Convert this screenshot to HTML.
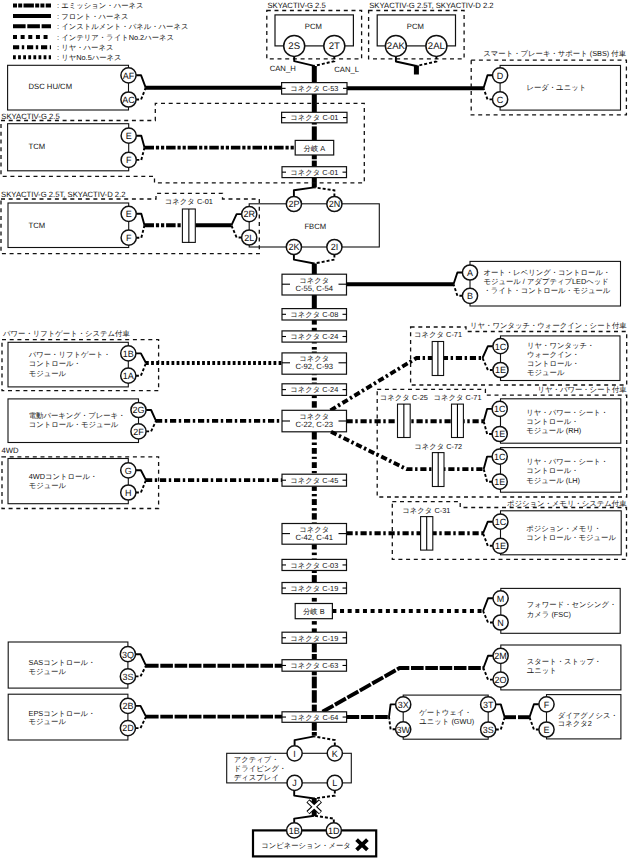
<!DOCTYPE html>
<html><head><meta charset="utf-8"><style>
html,body{margin:0;padding:0;background:#fff;width:628px;height:858px;overflow:hidden}
svg{display:block;text-rendering:geometricPrecision}
text{font-family:"Liberation Sans",sans-serif;fill:#111}
text.cl{fill:#111}
</style></head><body>
<svg width="628" height="858" viewBox="0 0 628 858">
<line x1="13" y1="5.6" x2="51" y2="5.6" stroke="#000" stroke-width="4" stroke-dasharray="4 1.2 4 1.3 10.4 1.3" stroke-dashoffset="0"/>
<text x="57" y="5.8999999999999995" font-size="7.5" text-anchor="start" dominant-baseline="central">:</text>
<text x="61.2" y="5.8999999999999995" font-size="7.35" text-anchor="start" dominant-baseline="central">エミッション・ハーネス</text>
<line x1="13" y1="16" x2="51" y2="16" stroke="#000" stroke-width="4" stroke-linecap="butt"/>
<text x="57" y="16.3" font-size="7.5" text-anchor="start" dominant-baseline="central">:</text>
<text x="61.2" y="16.3" font-size="7.35" text-anchor="start" dominant-baseline="central">フロント・ハーネス</text>
<line x1="13" y1="26.2" x2="51" y2="26.2" stroke="#000" stroke-width="4" stroke-dasharray="12.6 1.7" stroke-linecap="butt"/>
<text x="57" y="26.5" font-size="7.5" text-anchor="start" dominant-baseline="central">:</text>
<text x="61.2" y="26.5" font-size="7.35" text-anchor="start" dominant-baseline="central">インストルメント・パネル・ハーネス</text>
<line x1="13" y1="37" x2="51" y2="37" stroke="#000" stroke-width="4" stroke-dasharray="4 3.64" stroke-linecap="butt"/>
<text x="57" y="37.3" font-size="7.5" text-anchor="start" dominant-baseline="central">:</text>
<text x="61.2" y="37.3" font-size="7.35" text-anchor="start" dominant-baseline="central">インテリア・ライトNo.2ハーネス</text>
<line x1="13" y1="47.3" x2="51" y2="47.3" stroke="#000" stroke-width="4" stroke-dasharray="6.2 2.6 2.4 2.8" stroke-linecap="butt"/>
<text x="57" y="47.599999999999994" font-size="7.5" text-anchor="start" dominant-baseline="central">:</text>
<text x="61.2" y="47.599999999999994" font-size="7.35" text-anchor="start" dominant-baseline="central">リヤ・ハーネス</text>
<line x1="13" y1="57.3" x2="51" y2="57.3" stroke="#000" stroke-width="4" stroke-dasharray="2.8 2.3" stroke-linecap="butt"/>
<text x="57" y="57.599999999999994" font-size="7.5" text-anchor="start" dominant-baseline="central">:</text>
<text x="61.2" y="57.599999999999994" font-size="7.35" text-anchor="start" dominant-baseline="central">リヤNo.5ハーネス</text>
<rect x="311.8" y="66" width="5" height="16.599999999999994" fill="#000"/>
<rect x="311.8" y="93.5" width="5" height="18.799999999999997" fill="#000"/>
<rect x="311.8" y="122.8" width="5" height="1.7999999999999972" fill="#000"/>
<rect x="311.8" y="126.4" width="5" height="14.0" fill="#000"/>
<rect x="311.8" y="155" width="5" height="4.300000000000011" fill="#000"/>
<rect x="311.8" y="160.6" width="5" height="6.099999999999994" fill="#000"/>
<rect x="311.8" y="177.6" width="5" height="9.800000000000011" fill="#000"/>
<rect x="311.8" y="263.5" width="5" height="10.699999999999989" fill="#000"/>
<rect x="311.8" y="295" width="5" height="13.600000000000023" fill="#000"/>
<rect x="311.8" y="319.8" width="5" height="4.800000000000011" fill="#000"/>
<rect x="311.8" y="327.8" width="5" height="3.099999999999966" fill="#000"/>
<rect x="311.8" y="342.1" width="5" height="1.3999999999999773" fill="#000"/>
<rect x="311.8" y="347" width="5" height="2.6000000000000227" fill="#000"/>
<rect x="311.8" y="351.5" width="5" height="1.3999999999999773" fill="#000"/>
<rect x="311.8" y="374.2" width="5" height="1.0" fill="#000"/>
<rect x="311.8" y="377.6" width="5" height="2.7999999999999545" fill="#000"/>
<rect x="311.8" y="382.5" width="5" height="1.3000000000000114" fill="#000"/>
<rect x="311.8" y="395.4" width="5" height="2.7000000000000455" fill="#000"/>
<rect x="311.8" y="401.2" width="5" height="6.5" fill="#000"/>
<rect x="311.8" y="431.8" width="5" height="7.699999999999989" fill="#000"/>
<rect x="311.8" y="442.5" width="5" height="2.5" fill="#000"/>
<rect x="311.8" y="448" width="5" height="5.800000000000011" fill="#000"/>
<rect x="311.8" y="456.8" width="5" height="2.099999999999966" fill="#000"/>
<rect x="311.8" y="462.2" width="5" height="5.800000000000011" fill="#000"/>
<rect x="311.8" y="471" width="5" height="2.1999999999999886" fill="#000"/>
<rect x="311.8" y="486.2" width="5" height="4.699999999999989" fill="#000"/>
<rect x="311.8" y="494" width="5" height="2.3000000000000114" fill="#000"/>
<rect x="311.8" y="499.1" width="5" height="5.899999999999977" fill="#000"/>
<rect x="311.8" y="508.1" width="5" height="2.599999999999966" fill="#000"/>
<rect x="311.8" y="513.2" width="5" height="6.399999999999977" fill="#000"/>
<rect x="311.8" y="522.4" width="5" height="1.1000000000000227" fill="#000"/>
<rect x="311.8" y="544.2" width="5" height="5.199999999999932" fill="#000"/>
<rect x="311.8" y="552.6" width="5" height="2.5" fill="#000"/>
<rect x="311.8" y="558.5" width="5" height="0.8999999999999773" fill="#000"/>
<rect x="311.8" y="570.5" width="5" height="2.5" fill="#000"/>
<rect x="311.8" y="575.1" width="5" height="7.399999999999977" fill="#000"/>
<rect x="311.8" y="597.9" width="5" height="3.7000000000000455" fill="#000"/>
<rect x="311.8" y="621.1" width="5" height="3.5" fill="#000"/>
<rect x="311.8" y="628.4" width="5" height="3.800000000000068" fill="#000"/>
<rect x="311.8" y="643.3" width="5" height="9.0" fill="#000"/>
<rect x="311.8" y="654" width="5" height="5.7000000000000455" fill="#000"/>
<rect x="311.8" y="671.2" width="5" height="4.099999999999909" fill="#000"/>
<rect x="311.8" y="676.6" width="5" height="11.699999999999932" fill="#000"/>
<rect x="311.8" y="690.2" width="5" height="12.5" fill="#000"/>
<rect x="311.8" y="704.6" width="5" height="7.199999999999932" fill="#000"/>
<rect x="311.8" y="722.3" width="5" height="8.400000000000091" fill="#000"/>
<rect x="311.8" y="732" width="5" height="3.7000000000000455" fill="#000"/>
<polygon points="266.8,10.5 361.6,10.5 361.6,58.9 266.8,58.9" fill="none" stroke="#111" stroke-width="1.3" stroke-dasharray="4 3.7"/>
<text x="267.4" y="5.2" font-size="7.7" text-anchor="start" dominant-baseline="central">SKYACTIV-G 2.5</text>
<rect x="275" y="14.9" width="78.39999999999998" height="31.0" fill="none" stroke="#111" stroke-width="1.2"/>
<text x="313.3" y="26" font-size="7.7" text-anchor="middle" dominant-baseline="central">PCM</text>
<polyline points="294.2,56 294.2,61.2 314.2,65.9" fill="none" stroke="#000" stroke-width="1.9" stroke-linejoin="round"/>
<polyline points="334.3,56 334.3,61.2 314.2,65.9" fill="none" stroke="#000" stroke-width="1.9" stroke-dasharray="3 2"/>
<circle cx="294.2" cy="45.9" r="10.5" fill="#fff" stroke="#111" stroke-width="1.5"/>
<text x="294.2" y="46.199999999999996" font-size="9.6" text-anchor="middle" dominant-baseline="central" class="cl">2S</text>
<circle cx="334.3" cy="45.9" r="10.5" fill="#fff" stroke="#111" stroke-width="1.5"/>
<text x="334.3" y="46.199999999999996" font-size="9.6" text-anchor="middle" dominant-baseline="central" class="cl">2T</text>
<text x="282.7" y="68" font-size="7.7" text-anchor="middle" dominant-baseline="central">CAN_H</text>
<text x="346.7" y="69" font-size="7.7" text-anchor="middle" dominant-baseline="central">CAN_L</text>
<polygon points="368.6,10.5 464.1,10.5 464.1,58.9 368.6,58.9" fill="none" stroke="#111" stroke-width="1.3" stroke-dasharray="4 3.7"/>
<text x="369.2" y="5.2" font-size="7.7" text-anchor="start" dominant-baseline="central">SKYACTIV-G 2.5T, SKYACTIV-D 2.2</text>
<rect x="377.2" y="14.9" width="78.30000000000001" height="31.0" fill="none" stroke="#111" stroke-width="1.2"/>
<text x="415.4" y="26" font-size="7.7" text-anchor="middle" dominant-baseline="central">PCM</text>
<polyline points="395.9,56 395.9,61.5 416.4,66" fill="none" stroke="#000" stroke-width="1.9" stroke-linejoin="round"/>
<polyline points="436.4,56 436.4,61.5 416.4,66" fill="none" stroke="#000" stroke-width="1.9" stroke-dasharray="3 2"/>
<line x1="416.4" y1="65.5" x2="416.4" y2="74.5" stroke="#000" stroke-width="5" stroke-linecap="butt"/>
<circle cx="395.9" cy="45.9" r="10.5" fill="#fff" stroke="#111" stroke-width="1.5"/>
<text x="395.9" y="46.199999999999996" font-size="9.6" text-anchor="middle" dominant-baseline="central" class="cl">2AK</text>
<circle cx="436.4" cy="45.9" r="10.5" fill="#fff" stroke="#111" stroke-width="1.5"/>
<text x="436.4" y="46.199999999999996" font-size="9.6" text-anchor="middle" dominant-baseline="central" class="cl">2AL</text>
<rect x="7.6" y="65.3" width="120.9" height="44.7" fill="none" stroke="#111" stroke-width="1.1"/>
<text x="28.5" y="86.4" font-size="7.7" text-anchor="start" dominant-baseline="central">DSC HU/CM</text>
<polyline points="136.1,75.3 141.1,75.3 145.7,87.7" fill="none" stroke="#000" stroke-width="1.9" stroke-linejoin="round"/>
<polyline points="136.1,99.5 141.1,99.5 145.7,87.7" fill="none" stroke="#000" stroke-width="1.9" stroke-dasharray="3 2"/>
<line x1="145.7" y1="87.7" x2="281.6" y2="87.7" stroke="#000" stroke-width="3.9" stroke-linecap="butt"/>
<line x1="347" y1="88.2" x2="483.5" y2="88.2" stroke="#000" stroke-width="3.9" stroke-linecap="butt"/>
<circle cx="128.5" cy="75.3" r="7.6" fill="#fff" stroke="#111" stroke-width="1.5"/>
<text x="128.5" y="75.6" font-size="9" text-anchor="middle" dominant-baseline="central" class="cl">AF</text>
<circle cx="128.5" cy="99.5" r="7.6" fill="#fff" stroke="#111" stroke-width="1.5"/>
<text x="128.5" y="99.8" font-size="9" text-anchor="middle" dominant-baseline="central" class="cl">AC</text>
<text x="626" y="53.4" font-size="7.35" text-anchor="end" dominant-baseline="central">スマート・ブレーキ・サポート (SBS) 付車</text>
<polygon points="471.2,60.1 626.4,60.1 626.4,114.9 471.2,114.9" fill="none" stroke="#111" stroke-width="1.3" stroke-dasharray="4 3.7"/>
<rect x="500.1" y="65.4" width="120.39999999999998" height="44.69999999999999" fill="none" stroke="#111" stroke-width="1.1"/>
<text x="556.3" y="87.8" font-size="7.35" text-anchor="middle" dominant-baseline="central">レーダ・ユニット</text>
<polyline points="492.5,75.3 487.5,75.3 483.5,88.2" fill="none" stroke="#000" stroke-width="1.9" stroke-linejoin="round"/>
<polyline points="492.5,99.4 487.5,99.4 483.5,88.2" fill="none" stroke="#000" stroke-width="1.9" stroke-dasharray="3 2"/>
<circle cx="500.1" cy="75.3" r="7.6" fill="#fff" stroke="#111" stroke-width="1.5"/>
<text x="500.1" y="75.6" font-size="9" text-anchor="middle" dominant-baseline="central" class="cl">D</text>
<circle cx="500.1" cy="99.4" r="7.6" fill="#fff" stroke="#111" stroke-width="1.5"/>
<text x="500.1" y="99.7" font-size="9" text-anchor="middle" dominant-baseline="central" class="cl">C</text>
<text x="1.3" y="116" font-size="7.7" text-anchor="start" dominant-baseline="central">SKYACTIV-G 2.5</text>
<polygon points="1,120.5 155.3,120.5 155.3,103.4 364.3,103.4 364.3,182.8 154.5,182.8 154.5,176.3 1,176.3" fill="none" stroke="#111" stroke-width="1.3" stroke-dasharray="4 3.7"/>
<rect x="7.6" y="123.7" width="121.1" height="47.10000000000001" fill="none" stroke="#111" stroke-width="1.1"/>
<text x="28.5" y="146.4" font-size="7.7" text-anchor="start" dominant-baseline="central">TCM</text>
<polyline points="136.29999999999998,135.7 141.29999999999998,135.7 144.5,147.6" fill="none" stroke="#000" stroke-width="1.9" stroke-linejoin="round"/>
<polyline points="136.29999999999998,159.9 141.29999999999998,159.9 144.5,147.6" fill="none" stroke="#000" stroke-width="1.9" stroke-dasharray="3 2"/>
<line x1="144.5" y1="147.6" x2="295.2" y2="147.6" stroke="#000" stroke-width="3.9" stroke-dasharray="9.5 1.9 3.2 1.9 3.2 1.9" stroke-linecap="butt"/>
<circle cx="128.7" cy="135.7" r="7.6" fill="#fff" stroke="#111" stroke-width="1.5"/>
<text x="128.7" y="136.0" font-size="9" text-anchor="middle" dominant-baseline="central" class="cl">E</text>
<circle cx="128.7" cy="159.9" r="7.6" fill="#fff" stroke="#111" stroke-width="1.5"/>
<text x="128.7" y="160.20000000000002" font-size="9" text-anchor="middle" dominant-baseline="central" class="cl">F</text>
<rect x="281.6" y="82.6" width="65.39999999999998" height="11.5" fill="#fff" stroke="#111" stroke-width="1.2"/>
<line x1="281.6" y1="88.35" x2="285.6" y2="88.35" stroke="#000" stroke-width="1.1" stroke-linecap="butt"/>
<line x1="343" y1="88.35" x2="347" y2="88.35" stroke="#000" stroke-width="1.1" stroke-linecap="butt"/>
<text x="314.3" y="88.64999999999999" font-size="7.35" text-anchor="middle" dominant-baseline="central">コネクタ C-53</text>
<rect x="281.6" y="112.3" width="65.39999999999998" height="10.5" fill="#fff" stroke="#111" stroke-width="1.2"/>
<line x1="281.6" y1="117.55" x2="285.6" y2="117.55" stroke="#000" stroke-width="1.1" stroke-linecap="butt"/>
<line x1="343" y1="117.55" x2="347" y2="117.55" stroke="#000" stroke-width="1.1" stroke-linecap="butt"/>
<text x="314.3" y="117.85" font-size="7.35" text-anchor="middle" dominant-baseline="central">コネクタ C-01</text>
<rect x="295.2" y="140.4" width="38.5" height="14.599999999999994" fill="#fff" stroke="#111" stroke-width="1.2"/>
<text x="314.4" y="148" font-size="7.35" text-anchor="middle" dominant-baseline="central">分岐 A</text>
<rect x="282" y="166.7" width="64.5" height="10.900000000000006" fill="#fff" stroke="#111" stroke-width="1.2"/>
<line x1="282" y1="172.14999999999998" x2="286" y2="172.14999999999998" stroke="#000" stroke-width="1.1" stroke-linecap="butt"/>
<line x1="342.5" y1="172.14999999999998" x2="346.5" y2="172.14999999999998" stroke="#000" stroke-width="1.1" stroke-linecap="butt"/>
<text x="314.25" y="172.45" font-size="7.35" text-anchor="middle" dominant-baseline="central">コネクタ C-01</text>
<text x="1.1" y="194.1" font-size="7.7" text-anchor="start" dominant-baseline="central">SKYACTIV-G 2.5T, SKYACTIV-D 2.2</text>
<polygon points="1,199 156,199 156,193.4 222.5,193.4 222.5,199 259.3,199 259.3,253.6 1,253.6" fill="none" stroke="#111" stroke-width="1.3" stroke-dasharray="4 3.7"/>
<rect x="8" y="203" width="120.69999999999999" height="44.5" fill="none" stroke="#111" stroke-width="1.1"/>
<text x="28.5" y="225.4" font-size="7.7" text-anchor="start" dominant-baseline="central">TCM</text>
<polyline points="136.29999999999998,213.8 141.29999999999998,213.8 144.5,225.3" fill="none" stroke="#000" stroke-width="1.9" stroke-linejoin="round"/>
<polyline points="136.29999999999998,237.7 141.29999999999998,237.7 144.5,225.3" fill="none" stroke="#000" stroke-width="1.9" stroke-dasharray="3 2"/>
<line x1="144.5" y1="225.3" x2="182.4" y2="225.3" stroke="#000" stroke-width="3.9" stroke-dasharray="9.5 1.9 3.2 1.9 3.2 1.9" stroke-linecap="butt"/>
<line x1="195.3" y1="225.3" x2="231.4" y2="225.3" stroke="#000" stroke-width="3.9" stroke-linecap="butt"/>
<text x="188.8" y="201.9" font-size="7.35" text-anchor="middle" dominant-baseline="central">コネクタ C-01</text>
<rect x="182.4" y="209" width="12.900000000000006" height="33.400000000000006" fill="#fff" stroke="#111" stroke-width="1.1"/>
<line x1="188.85000000000002" y1="209" x2="188.85000000000002" y2="242.4" stroke="#000" stroke-width="1.1" stroke-linecap="butt"/>
<polyline points="241.6,214.1 236.6,214.1 231.4,225.3" fill="none" stroke="#000" stroke-width="1.9" stroke-linejoin="round"/>
<polyline points="241.6,237.5 236.6,237.5 231.4,225.3" fill="none" stroke="#000" stroke-width="1.9" stroke-dasharray="3 2"/>
<circle cx="128.7" cy="213.8" r="7.6" fill="#fff" stroke="#111" stroke-width="1.5"/>
<text x="128.7" y="214.10000000000002" font-size="9" text-anchor="middle" dominant-baseline="central" class="cl">E</text>
<circle cx="128.7" cy="237.7" r="7.6" fill="#fff" stroke="#111" stroke-width="1.5"/>
<text x="128.7" y="238.0" font-size="9" text-anchor="middle" dominant-baseline="central" class="cl">F</text>
<rect x="249.2" y="203.8" width="130.10000000000002" height="43.19999999999999" fill="none" stroke="#111" stroke-width="1.1"/>
<text x="315.3" y="226.3" font-size="7.7" text-anchor="middle" dominant-baseline="central">FBCM</text>
<polyline points="293.9,196.4 293.9,190.3 314.2,187.4" fill="none" stroke="#000" stroke-width="1.9" stroke-linejoin="round"/>
<polyline points="334.4,196.4 334.4,190.3 314.2,187.4" fill="none" stroke="#000" stroke-width="1.9" stroke-dasharray="3 2"/>
<polyline points="293.9,254.6 293.9,259.6 314.3,263.5" fill="none" stroke="#000" stroke-width="1.9" stroke-linejoin="round"/>
<polyline points="334.4,254.6 334.4,259.6 314.3,263.5" fill="none" stroke="#000" stroke-width="1.9" stroke-dasharray="3 2"/>
<circle cx="249.2" cy="214.1" r="7.6" fill="#fff" stroke="#111" stroke-width="1.5"/>
<text x="249.2" y="214.4" font-size="9" text-anchor="middle" dominant-baseline="central" class="cl">2R</text>
<circle cx="249.2" cy="237.5" r="7.6" fill="#fff" stroke="#111" stroke-width="1.5"/>
<text x="249.2" y="237.8" font-size="9" text-anchor="middle" dominant-baseline="central" class="cl">2L</text>
<circle cx="293.9" cy="204" r="7.6" fill="#fff" stroke="#111" stroke-width="1.5"/>
<text x="293.9" y="204.3" font-size="9" text-anchor="middle" dominant-baseline="central" class="cl">2P</text>
<circle cx="334.4" cy="204" r="7.6" fill="#fff" stroke="#111" stroke-width="1.5"/>
<text x="334.4" y="204.3" font-size="9" text-anchor="middle" dominant-baseline="central" class="cl">2N</text>
<circle cx="293.9" cy="247" r="7.6" fill="#fff" stroke="#111" stroke-width="1.5"/>
<text x="293.9" y="247.3" font-size="9" text-anchor="middle" dominant-baseline="central" class="cl">2K</text>
<circle cx="334.4" cy="247" r="7.6" fill="#fff" stroke="#111" stroke-width="1.5"/>
<text x="334.4" y="247.3" font-size="9" text-anchor="middle" dominant-baseline="central" class="cl">2I</text>
<rect x="282" y="274.2" width="64.5" height="20.80000000000001" fill="#fff" stroke="#111" stroke-width="1.2"/>
<line x1="282" y1="284.2" x2="290" y2="284.2" stroke="#000" stroke-width="1.1" stroke-linecap="butt"/>
<line x1="338.5" y1="284.2" x2="346.5" y2="284.2" stroke="#000" stroke-width="1.1" stroke-linecap="butt"/>
<text x="314.25" y="280.0" font-size="7.35" text-anchor="middle" dominant-baseline="central">コネクタ</text>
<text x="314.25" y="288.2" font-size="7.7" text-anchor="middle" dominant-baseline="central">C-55, C-54</text>
<rect x="282" y="308.6" width="64.5" height="11.399999999999977" fill="#fff" stroke="#111" stroke-width="1.2"/>
<line x1="282" y1="314.3" x2="286" y2="314.3" stroke="#000" stroke-width="1.1" stroke-linecap="butt"/>
<line x1="342.5" y1="314.3" x2="346.5" y2="314.3" stroke="#000" stroke-width="1.1" stroke-linecap="butt"/>
<text x="314.25" y="314.6" font-size="7.35" text-anchor="middle" dominant-baseline="central">コネクタ C-08</text>
<line x1="346.5" y1="284.2" x2="453.5" y2="284.2" stroke="#000" stroke-width="3.9" stroke-linecap="butt"/>
<rect x="470" y="261.4" width="150.5" height="44.60000000000002" fill="none" stroke="#111" stroke-width="1.1"/>
<text x="483.4" y="272.8" font-size="7.35" text-anchor="start" dominant-baseline="central">オート・レベリング・コントロール・</text>
<text x="483.4" y="281.8" font-size="7.35" text-anchor="start" dominant-baseline="central">モジュール / アダプティブLEDヘッド</text>
<text x="483.4" y="290.8" font-size="7.35" text-anchor="start" dominant-baseline="central">・ライト・コントロール・モジュール</text>
<polyline points="462.4,272.5 457.4,272.5 453.5,284.2" fill="none" stroke="#000" stroke-width="1.9" stroke-linejoin="round"/>
<polyline points="462.4,295.8 457.4,295.8 453.5,284.2" fill="none" stroke="#000" stroke-width="1.9" stroke-dasharray="3 2"/>
<circle cx="470" cy="272.5" r="7.6" fill="#fff" stroke="#111" stroke-width="1.5"/>
<text x="470" y="272.8" font-size="9" text-anchor="middle" dominant-baseline="central" class="cl">A</text>
<circle cx="470" cy="295.8" r="7.6" fill="#fff" stroke="#111" stroke-width="1.5"/>
<text x="470" y="296.1" font-size="9" text-anchor="middle" dominant-baseline="central" class="cl">B</text>
<text x="3" y="333.6" font-size="7.35" text-anchor="start" dominant-baseline="central">パワー・リフトゲート・システム付車</text>
<polygon points="2,339.7 158.6,339.7 158.6,390.7 2,390.7" fill="none" stroke="#111" stroke-width="1.3" stroke-dasharray="4 3.7"/>
<rect x="8" y="342.3" width="120.30000000000001" height="44.599999999999966" fill="none" stroke="#111" stroke-width="1.1"/>
<text x="28.7" y="354.6" font-size="7.35" text-anchor="start" dominant-baseline="central">パワー・リフトゲート・</text>
<text x="28.7" y="363.90000000000003" font-size="7.35" text-anchor="start" dominant-baseline="central">コントロール・</text>
<text x="28.7" y="373.20000000000005" font-size="7.35" text-anchor="start" dominant-baseline="central">モジュール</text>
<polyline points="135.9,353.4 140.9,353.4 146,363" fill="none" stroke="#000" stroke-width="1.9" stroke-linejoin="round"/>
<polyline points="135.9,375.7 140.9,375.7 146,363" fill="none" stroke="#000" stroke-width="1.9" stroke-dasharray="3 2"/>
<line x1="146" y1="363" x2="282" y2="363" stroke="#000" stroke-width="3.9" stroke-dasharray="2.8 2.3" stroke-linecap="butt"/>
<circle cx="128.3" cy="353.4" r="7.6" fill="#fff" stroke="#111" stroke-width="1.5"/>
<text x="128.3" y="353.7" font-size="9" text-anchor="middle" dominant-baseline="central" class="cl">1B</text>
<circle cx="128.3" cy="375.7" r="7.6" fill="#fff" stroke="#111" stroke-width="1.5"/>
<text x="128.3" y="376.0" font-size="9" text-anchor="middle" dominant-baseline="central" class="cl">1A</text>
<rect x="282" y="330.9" width="64.5" height="11.200000000000045" fill="#fff" stroke="#111" stroke-width="1.2"/>
<line x1="282" y1="336.5" x2="286" y2="336.5" stroke="#000" stroke-width="1.1" stroke-linecap="butt"/>
<line x1="342.5" y1="336.5" x2="346.5" y2="336.5" stroke="#000" stroke-width="1.1" stroke-linecap="butt"/>
<text x="314.25" y="336.8" font-size="7.35" text-anchor="middle" dominant-baseline="central">コネクタ C-24</text>
<rect x="282" y="352.9" width="64.5" height="21.30000000000001" fill="#fff" stroke="#111" stroke-width="1.2"/>
<line x1="282" y1="362.8" x2="290" y2="362.8" stroke="#000" stroke-width="1.1" stroke-linecap="butt"/>
<line x1="338.5" y1="362.8" x2="346.5" y2="362.8" stroke="#000" stroke-width="1.1" stroke-linecap="butt"/>
<text x="314.25" y="358.7" font-size="7.35" text-anchor="middle" dominant-baseline="central">コネクタ</text>
<text x="314.25" y="366.9" font-size="7.7" text-anchor="middle" dominant-baseline="central">C-92, C-93</text>
<rect x="282" y="383.8" width="64.5" height="11.599999999999966" fill="#fff" stroke="#111" stroke-width="1.2"/>
<line x1="282" y1="389.6" x2="286" y2="389.6" stroke="#000" stroke-width="1.1" stroke-linecap="butt"/>
<line x1="342.5" y1="389.6" x2="346.5" y2="389.6" stroke="#000" stroke-width="1.1" stroke-linecap="butt"/>
<text x="314.25" y="389.90000000000003" font-size="7.35" text-anchor="middle" dominant-baseline="central">コネクタ C-24</text>
<rect x="8" y="398.9" width="130.5" height="43.60000000000002" fill="none" stroke="#111" stroke-width="1.1"/>
<text x="28.7" y="415" font-size="7.35" text-anchor="start" dominant-baseline="central">電動パーキング・ブレーキ・</text>
<text x="28.7" y="424.6" font-size="7.35" text-anchor="start" dominant-baseline="central">コントロール・モジュール</text>
<polyline points="146.1,410 151.1,410 156,420.9" fill="none" stroke="#000" stroke-width="1.9" stroke-linejoin="round"/>
<polyline points="146.1,431.4 151.1,431.4 156,420.9" fill="none" stroke="#000" stroke-width="1.9" stroke-dasharray="3 2"/>
<line x1="156" y1="420.9" x2="282" y2="420.9" stroke="#000" stroke-width="3.9" stroke-dasharray="6.2 2.6 2.4 2.8" stroke-linecap="butt"/>
<circle cx="138.5" cy="410" r="7.6" fill="#fff" stroke="#111" stroke-width="1.5"/>
<text x="138.5" y="410.3" font-size="9" text-anchor="middle" dominant-baseline="central" class="cl">2G</text>
<circle cx="138.5" cy="431.4" r="7.6" fill="#fff" stroke="#111" stroke-width="1.5"/>
<text x="138.5" y="431.7" font-size="9" text-anchor="middle" dominant-baseline="central" class="cl">2F</text>
<text x="1.5" y="450" font-size="7.7" text-anchor="start" dominant-baseline="central">4WD</text>
<polygon points="2,456.9 158.6,456.9 158.6,508.5 2,508.5" fill="none" stroke="#111" stroke-width="1.3" stroke-dasharray="4 3.7"/>
<rect x="8" y="458.5" width="120.30000000000001" height="45.19999999999999" fill="none" stroke="#111" stroke-width="1.1"/>
<text x="28.7" y="476.2" font-size="7.35" text-anchor="start" dominant-baseline="central">4WDコントロール・</text>
<text x="28.7" y="485.1" font-size="7.35" text-anchor="start" dominant-baseline="central">モジュール</text>
<polyline points="135.9,470.3 140.9,470.3 146,480.1" fill="none" stroke="#000" stroke-width="1.9" stroke-linejoin="round"/>
<polyline points="135.9,492.5 140.9,492.5 146,480.1" fill="none" stroke="#000" stroke-width="1.9" stroke-dasharray="3 2"/>
<line x1="146" y1="480.1" x2="282" y2="480.1" stroke="#000" stroke-width="3.9" stroke-dasharray="6.2 2.6 2.4 2.8" stroke-linecap="butt"/>
<circle cx="128.3" cy="470.3" r="7.6" fill="#fff" stroke="#111" stroke-width="1.5"/>
<text x="128.3" y="470.6" font-size="9" text-anchor="middle" dominant-baseline="central" class="cl">G</text>
<circle cx="128.3" cy="492.5" r="7.6" fill="#fff" stroke="#111" stroke-width="1.5"/>
<text x="128.3" y="492.8" font-size="9" text-anchor="middle" dominant-baseline="central" class="cl">H</text>
<text x="626.7" y="325" font-size="7.35" text-anchor="end" dominant-baseline="central">リヤ・ワンタッチ・ウォークイン・シート付車</text>
<polygon points="410.6,327 466,327 466,331.5 626.7,331.5 626.7,385 410.6,385" fill="none" stroke="#111" stroke-width="1.3" stroke-dasharray="4 3.7"/>
<text x="414" y="334.9" font-size="7.35" text-anchor="start" dominant-baseline="central">コネクタ C-71</text>
<polyline points="330.5,410.3 416.5,358 482.5,358" fill="none" stroke="#000" stroke-width="3.9" stroke-dasharray="6.2 2.6 2.4 2.8" stroke-linejoin="round"/>
<rect x="432.2" y="341.5" width="11.400000000000034" height="34.0" fill="#fff" stroke="#111" stroke-width="1.1"/>
<line x1="437.9" y1="341.5" x2="437.9" y2="375.5" stroke="#000" stroke-width="1.1" stroke-linecap="butt"/>
<rect x="500.5" y="335.9" width="119.5" height="44.60000000000002" fill="none" stroke="#111" stroke-width="1.1"/>
<text x="527" y="345.0" font-size="7.35" text-anchor="start" dominant-baseline="central">リヤ・ワンタッチ・</text>
<text x="527" y="354.3" font-size="7.35" text-anchor="start" dominant-baseline="central">ウォークイン・</text>
<text x="527" y="363.6" font-size="7.35" text-anchor="start" dominant-baseline="central">コントロール・</text>
<text x="527" y="372.9" font-size="7.35" text-anchor="start" dominant-baseline="central">モジュール</text>
<polyline points="492.9,346.2 487.9,346.2 482.5,358" fill="none" stroke="#000" stroke-width="1.9" stroke-linejoin="round"/>
<polyline points="492.9,370 487.9,370 482.5,358" fill="none" stroke="#000" stroke-width="1.9" stroke-dasharray="3 2"/>
<circle cx="500.5" cy="346.2" r="7.6" fill="#fff" stroke="#111" stroke-width="1.5"/>
<text x="500.5" y="346.5" font-size="9" text-anchor="middle" dominant-baseline="central" class="cl">1C</text>
<circle cx="500.5" cy="370" r="7.6" fill="#fff" stroke="#111" stroke-width="1.5"/>
<text x="500.5" y="370.3" font-size="9" text-anchor="middle" dominant-baseline="central" class="cl">1E</text>
<rect x="282" y="410.3" width="64.5" height="21.5" fill="#fff" stroke="#111" stroke-width="1.2"/>
<line x1="282" y1="421" x2="290" y2="421" stroke="#000" stroke-width="1.1" stroke-linecap="butt"/>
<line x1="338.5" y1="421" x2="346.5" y2="421" stroke="#000" stroke-width="1.1" stroke-linecap="butt"/>
<text x="314.25" y="416.1" font-size="7.35" text-anchor="middle" dominant-baseline="central">コネクタ</text>
<text x="314.25" y="424.3" font-size="7.7" text-anchor="middle" dominant-baseline="central">C-22, C-23</text>
<text x="626.7" y="389.9" font-size="7.35" text-anchor="end" dominant-baseline="central">リヤ・パワー・シート付車</text>
<polygon points="377.2,389.3 485.4,389.3 485.4,395.2 626.7,395.2 626.7,497 377.2,497" fill="none" stroke="#111" stroke-width="1.3" stroke-dasharray="4 3.7"/>
<line x1="346.5" y1="421.3" x2="483.7" y2="421.3" stroke="#000" stroke-width="3.9" stroke-dasharray="6.2 2.6 2.4 2.8" stroke-linecap="butt"/>
<polyline points="331,431.8 406.6,469.1 483.7,469.1" fill="none" stroke="#000" stroke-width="3.9" stroke-dasharray="6.2 2.6 2.4 2.8" stroke-linejoin="round"/>
<text x="403.8" y="397.6" font-size="7.35" text-anchor="middle" dominant-baseline="central">コネクタ C-25</text>
<text x="457.5" y="397.6" font-size="7.35" text-anchor="middle" dominant-baseline="central">コネクタ C-71</text>
<text x="438.2" y="446.1" font-size="7.35" text-anchor="middle" dominant-baseline="central">コネクタ C-72</text>
<rect x="397.5" y="404.1" width="12.699999999999989" height="33.39999999999998" fill="#fff" stroke="#111" stroke-width="1.1"/>
<line x1="403.85" y1="404.1" x2="403.85" y2="437.5" stroke="#000" stroke-width="1.1" stroke-linecap="butt"/>
<rect x="451.5" y="404.1" width="11.899999999999977" height="33.39999999999998" fill="#fff" stroke="#111" stroke-width="1.1"/>
<line x1="457.45" y1="404.1" x2="457.45" y2="437.5" stroke="#000" stroke-width="1.1" stroke-linecap="butt"/>
<rect x="432.4" y="452.6" width="11.600000000000023" height="33.89999999999998" fill="#fff" stroke="#111" stroke-width="1.1"/>
<line x1="438.2" y1="452.6" x2="438.2" y2="486.5" stroke="#000" stroke-width="1.1" stroke-linecap="butt"/>
<rect x="500.5" y="398.8" width="120.29999999999995" height="44.39999999999998" fill="none" stroke="#111" stroke-width="1.1"/>
<rect x="500.5" y="447.6" width="120.29999999999995" height="44.599999999999966" fill="none" stroke="#111" stroke-width="1.1"/>
<text x="526.3" y="412.2" font-size="7.35" text-anchor="start" dominant-baseline="central">リヤ・パワー・シート・</text>
<text x="526.3" y="421.55" font-size="7.35" text-anchor="start" dominant-baseline="central">コントロール・</text>
<text x="526.3" y="430.9" font-size="7.35" text-anchor="start" dominant-baseline="central">モジュール (RH)</text>
<text x="526.3" y="461.6" font-size="7.35" text-anchor="start" dominant-baseline="central">リヤ・パワー・シート・</text>
<text x="526.3" y="470.95000000000005" font-size="7.35" text-anchor="start" dominant-baseline="central">コントロール・</text>
<text x="526.3" y="480.3" font-size="7.35" text-anchor="start" dominant-baseline="central">モジュール (LH)</text>
<polyline points="492.09999999999997,408.9 487.09999999999997,408.9 483.7,421.3" fill="none" stroke="#000" stroke-width="1.9" stroke-linejoin="round"/>
<polyline points="492.09999999999997,434 487.09999999999997,434 483.7,421.3" fill="none" stroke="#000" stroke-width="1.9" stroke-dasharray="3 2"/>
<polyline points="492.09999999999997,456.6 487.09999999999997,456.6 483.7,469.1" fill="none" stroke="#000" stroke-width="1.9" stroke-linejoin="round"/>
<polyline points="492.09999999999997,481.7 487.09999999999997,481.7 483.7,469.1" fill="none" stroke="#000" stroke-width="1.9" stroke-dasharray="3 2"/>
<circle cx="499.7" cy="408.9" r="7.6" fill="#fff" stroke="#111" stroke-width="1.5"/>
<text x="499.7" y="409.2" font-size="9" text-anchor="middle" dominant-baseline="central" class="cl">1C</text>
<circle cx="499.7" cy="434" r="7.6" fill="#fff" stroke="#111" stroke-width="1.5"/>
<text x="499.7" y="434.3" font-size="9" text-anchor="middle" dominant-baseline="central" class="cl">1E</text>
<circle cx="499.7" cy="456.6" r="7.6" fill="#fff" stroke="#111" stroke-width="1.5"/>
<text x="499.7" y="456.90000000000003" font-size="9" text-anchor="middle" dominant-baseline="central" class="cl">1C</text>
<circle cx="499.7" cy="481.7" r="7.6" fill="#fff" stroke="#111" stroke-width="1.5"/>
<text x="499.7" y="482.0" font-size="9" text-anchor="middle" dominant-baseline="central" class="cl">1E</text>
<rect x="282" y="474.2" width="64.5" height="12.0" fill="#fff" stroke="#111" stroke-width="1.2"/>
<line x1="282" y1="480.2" x2="286" y2="480.2" stroke="#000" stroke-width="1.1" stroke-linecap="butt"/>
<line x1="342.5" y1="480.2" x2="346.5" y2="480.2" stroke="#000" stroke-width="1.1" stroke-linecap="butt"/>
<text x="314.25" y="480.5" font-size="7.35" text-anchor="middle" dominant-baseline="central">コネクタ C-45</text>
<text x="626.5" y="503.6" font-size="7.35" text-anchor="end" dominant-baseline="central">ポジション・メモリ・システム付車</text>
<polygon points="392.3,501.7 460.2,501.7 460.2,507.5 626.5,507.5 626.5,559.3 392.3,559.3" fill="none" stroke="#111" stroke-width="1.3" stroke-dasharray="4 3.7"/>
<text x="402.3" y="510.4" font-size="7.35" text-anchor="start" dominant-baseline="central">コネクタ C-31</text>
<line x1="346.5" y1="533.3" x2="483" y2="533.3" stroke="#000" stroke-width="3.9" stroke-dasharray="6.2 2.6 2.4 2.8" stroke-linecap="butt"/>
<rect x="420.6" y="516.6" width="12.199999999999989" height="33.5" fill="#fff" stroke="#111" stroke-width="1.1"/>
<line x1="426.70000000000005" y1="516.6" x2="426.70000000000005" y2="550.1" stroke="#000" stroke-width="1.1" stroke-linecap="butt"/>
<rect x="500.5" y="510.8" width="120.70000000000005" height="43.99999999999994" fill="none" stroke="#111" stroke-width="1.1"/>
<text x="526.3" y="528.6" font-size="7.35" text-anchor="start" dominant-baseline="central">ポジション・メモリ・</text>
<text x="526.3" y="537.4" font-size="7.35" text-anchor="start" dominant-baseline="central">コントロール・モジュール</text>
<polyline points="492.79999999999995,521.7 487.79999999999995,521.7 483,533.3" fill="none" stroke="#000" stroke-width="1.9" stroke-linejoin="round"/>
<polyline points="492.79999999999995,545.8 487.79999999999995,545.8 483,533.3" fill="none" stroke="#000" stroke-width="1.9" stroke-dasharray="3 2"/>
<circle cx="500.4" cy="521.7" r="7.6" fill="#fff" stroke="#111" stroke-width="1.5"/>
<text x="500.4" y="522.0" font-size="9" text-anchor="middle" dominant-baseline="central" class="cl">1C</text>
<circle cx="500.4" cy="545.8" r="7.6" fill="#fff" stroke="#111" stroke-width="1.5"/>
<text x="500.4" y="546.0999999999999" font-size="9" text-anchor="middle" dominant-baseline="central" class="cl">1E</text>
<rect x="282" y="523.5" width="64.5" height="20.700000000000045" fill="#fff" stroke="#111" stroke-width="1.2"/>
<line x1="282" y1="533.6" x2="290" y2="533.6" stroke="#000" stroke-width="1.1" stroke-linecap="butt"/>
<line x1="338.5" y1="533.6" x2="346.5" y2="533.6" stroke="#000" stroke-width="1.1" stroke-linecap="butt"/>
<text x="314.25" y="529.3" font-size="7.35" text-anchor="middle" dominant-baseline="central">コネクタ</text>
<text x="314.25" y="537.5" font-size="7.7" text-anchor="middle" dominant-baseline="central">C-42, C-41</text>
<rect x="282" y="559.4" width="64.5" height="11.100000000000023" fill="#fff" stroke="#111" stroke-width="1.2"/>
<line x1="282" y1="564.95" x2="286" y2="564.95" stroke="#000" stroke-width="1.1" stroke-linecap="butt"/>
<line x1="342.5" y1="564.95" x2="346.5" y2="564.95" stroke="#000" stroke-width="1.1" stroke-linecap="butt"/>
<text x="314.25" y="565.25" font-size="7.35" text-anchor="middle" dominant-baseline="central">コネクタ C-03</text>
<rect x="282" y="582.5" width="64.5" height="11.100000000000023" fill="#fff" stroke="#111" stroke-width="1.2"/>
<line x1="282" y1="588.05" x2="286" y2="588.05" stroke="#000" stroke-width="1.1" stroke-linecap="butt"/>
<line x1="342.5" y1="588.05" x2="346.5" y2="588.05" stroke="#000" stroke-width="1.1" stroke-linecap="butt"/>
<text x="314.25" y="588.3499999999999" font-size="7.35" text-anchor="middle" dominant-baseline="central">コネクタ C-19</text>
<line x1="332.4" y1="611" x2="483.1" y2="611" stroke="#000" stroke-width="3.9" stroke-dasharray="4 3.64" stroke-linecap="butt"/>
<rect x="295.2" y="603.5" width="37.19999999999999" height="15.200000000000045" fill="#fff" stroke="#111" stroke-width="1.2"/>
<text x="313.8" y="611" font-size="7.35" text-anchor="middle" dominant-baseline="central">分岐 B</text>
<rect x="500.8" y="588.4" width="119.40000000000003" height="44.89999999999998" fill="none" stroke="#111" stroke-width="1.1"/>
<text x="526.8" y="604.2" font-size="7.35" text-anchor="start" dominant-baseline="central">フォワード・センシング・</text>
<text x="526.8" y="614" font-size="7.35" text-anchor="start" dominant-baseline="central">カメラ (FSC)</text>
<polyline points="493.0,598.3 488.0,598.3 483.1,611" fill="none" stroke="#000" stroke-width="1.9" stroke-linejoin="round"/>
<polyline points="493.0,622.5 488.0,622.5 483.1,611" fill="none" stroke="#000" stroke-width="1.9" stroke-dasharray="3 2"/>
<circle cx="500.6" cy="598.3" r="7.6" fill="#fff" stroke="#111" stroke-width="1.5"/>
<text x="500.6" y="598.5999999999999" font-size="9" text-anchor="middle" dominant-baseline="central" class="cl">M</text>
<circle cx="500.6" cy="622.5" r="7.6" fill="#fff" stroke="#111" stroke-width="1.5"/>
<text x="500.6" y="622.8" font-size="9" text-anchor="middle" dominant-baseline="central" class="cl">N</text>
<rect x="282" y="632.2" width="64.5" height="11.099999999999909" fill="#fff" stroke="#111" stroke-width="1.2"/>
<line x1="282" y1="637.75" x2="286" y2="637.75" stroke="#000" stroke-width="1.1" stroke-linecap="butt"/>
<line x1="342.5" y1="637.75" x2="346.5" y2="637.75" stroke="#000" stroke-width="1.1" stroke-linecap="butt"/>
<text x="314.25" y="638.05" font-size="7.35" text-anchor="middle" dominant-baseline="central">コネクタ C-19</text>
<rect x="8.2" y="642" width="119.7" height="46.10000000000002" fill="none" stroke="#111" stroke-width="1.1"/>
<text x="28.5" y="662.6" font-size="7.35" text-anchor="start" dominant-baseline="central">SASコントロール・</text>
<text x="28.5" y="671" font-size="7.35" text-anchor="start" dominant-baseline="central">モジュール</text>
<polyline points="135.5,654.2 140.5,654.2 146,665.7" fill="none" stroke="#000" stroke-width="1.9" stroke-linejoin="round"/>
<polyline points="135.5,676.4 140.5,676.4 146,665.7" fill="none" stroke="#000" stroke-width="1.9" stroke-dasharray="3 2"/>
<line x1="146" y1="665.7" x2="282" y2="665.7" stroke="#000" stroke-width="3.9" stroke-dasharray="12.6 1.7" stroke-linecap="butt"/>
<circle cx="127.9" cy="654.2" r="7.6" fill="#fff" stroke="#111" stroke-width="1.5"/>
<text x="127.9" y="654.5" font-size="9" text-anchor="middle" dominant-baseline="central" class="cl">3Q</text>
<circle cx="127.9" cy="676.4" r="7.6" fill="#fff" stroke="#111" stroke-width="1.5"/>
<text x="127.9" y="676.6999999999999" font-size="9" text-anchor="middle" dominant-baseline="central" class="cl">3S</text>
<rect x="8.2" y="694.2" width="119.7" height="45.799999999999955" fill="none" stroke="#111" stroke-width="1.1"/>
<text x="28.5" y="713" font-size="7.35" text-anchor="start" dominant-baseline="central">EPSコントロール・</text>
<text x="28.5" y="721.2" font-size="7.35" text-anchor="start" dominant-baseline="central">モジュール</text>
<polyline points="135.5,705.9 140.5,705.9 146,716.6" fill="none" stroke="#000" stroke-width="1.9" stroke-linejoin="round"/>
<polyline points="135.5,728.1 140.5,728.1 146,716.6" fill="none" stroke="#000" stroke-width="1.9" stroke-dasharray="3 2"/>
<line x1="146" y1="716.6" x2="282" y2="716.6" stroke="#000" stroke-width="3.9" stroke-dasharray="12.6 1.7" stroke-linecap="butt"/>
<circle cx="127.9" cy="705.9" r="7.6" fill="#fff" stroke="#111" stroke-width="1.5"/>
<text x="127.9" y="706.1999999999999" font-size="9" text-anchor="middle" dominant-baseline="central" class="cl">2B</text>
<circle cx="127.9" cy="728.1" r="7.6" fill="#fff" stroke="#111" stroke-width="1.5"/>
<text x="127.9" y="728.4" font-size="9" text-anchor="middle" dominant-baseline="central" class="cl">2D</text>
<rect x="282" y="659.7" width="64.5" height="11.5" fill="#fff" stroke="#111" stroke-width="1.2"/>
<line x1="282" y1="665.45" x2="286" y2="665.45" stroke="#000" stroke-width="1.1" stroke-linecap="butt"/>
<line x1="342.5" y1="665.45" x2="346.5" y2="665.45" stroke="#000" stroke-width="1.1" stroke-linecap="butt"/>
<text x="314.25" y="665.75" font-size="7.35" text-anchor="middle" dominant-baseline="central">コネクタ C-63</text>
<polyline points="322.5,711.8 399.6,668 483.4,668" fill="none" stroke="#000" stroke-width="3.9" stroke-dasharray="12.6 1.7" stroke-linejoin="round"/>
<rect x="500.8" y="645" width="120.09999999999997" height="44.89999999999998" fill="none" stroke="#111" stroke-width="1.1"/>
<text x="526.8" y="661.6" font-size="7.35" text-anchor="start" dominant-baseline="central">スタート・ストップ・</text>
<text x="526.8" y="670.6" font-size="7.35" text-anchor="start" dominant-baseline="central">ユニット</text>
<polyline points="493.0,655.8 488.0,655.8 483.4,668" fill="none" stroke="#000" stroke-width="1.9" stroke-linejoin="round"/>
<polyline points="493.0,679.6 488.0,679.6 483.4,668" fill="none" stroke="#000" stroke-width="1.9" stroke-dasharray="3 2"/>
<circle cx="500.6" cy="655.8" r="7.6" fill="#fff" stroke="#111" stroke-width="1.5"/>
<text x="500.6" y="656.0999999999999" font-size="9" text-anchor="middle" dominant-baseline="central" class="cl">2M</text>
<circle cx="500.6" cy="679.6" r="7.6" fill="#fff" stroke="#111" stroke-width="1.5"/>
<text x="500.6" y="679.9" font-size="9" text-anchor="middle" dominant-baseline="central" class="cl">2O</text>
<line x1="346.6" y1="717" x2="389" y2="717" stroke="#000" stroke-width="3.9" stroke-dasharray="12.6 1.7" stroke-linecap="butt"/>
<rect x="403.2" y="695.1" width="85.0" height="44.10000000000002" fill="none" stroke="#111" stroke-width="1.1"/>
<text x="419.3" y="712.2" font-size="7.35" text-anchor="start" dominant-baseline="central">ゲートウェイ・</text>
<text x="419.3" y="721.3" font-size="7.35" text-anchor="start" dominant-baseline="central">ユニット (GWU)</text>
<polyline points="395.59999999999997,704.4 390.59999999999997,704.4 389,717" fill="none" stroke="#000" stroke-width="1.9" stroke-linejoin="round"/>
<polyline points="395.59999999999997,729.3 390.59999999999997,729.3 389,717" fill="none" stroke="#000" stroke-width="1.9" stroke-dasharray="3 2"/>
<polyline points="495.8,704.4 500.8,704.4 504.7,717.2" fill="none" stroke="#000" stroke-width="1.9" stroke-linejoin="round"/>
<polyline points="495.8,729.5 500.8,729.5 504.7,717.2" fill="none" stroke="#000" stroke-width="1.9" stroke-dasharray="3 2"/>
<line x1="504.7" y1="717.2" x2="516" y2="717.2" stroke="#000" stroke-width="3.9" stroke-linecap="butt"/>
<line x1="518" y1="717.2" x2="529.5" y2="717.2" stroke="#000" stroke-width="3.9" stroke-linecap="butt"/>
<circle cx="403.2" cy="704.4" r="7.6" fill="#fff" stroke="#111" stroke-width="1.5"/>
<text x="403.2" y="704.6999999999999" font-size="9" text-anchor="middle" dominant-baseline="central" class="cl">3X</text>
<circle cx="403.2" cy="729.3" r="7.6" fill="#fff" stroke="#111" stroke-width="1.5"/>
<text x="403.2" y="729.5999999999999" font-size="9" text-anchor="middle" dominant-baseline="central" class="cl">3W</text>
<circle cx="488.2" cy="704.4" r="7.6" fill="#fff" stroke="#111" stroke-width="1.5"/>
<text x="488.2" y="704.6999999999999" font-size="9" text-anchor="middle" dominant-baseline="central" class="cl">3T</text>
<circle cx="488.2" cy="729.5" r="7.6" fill="#fff" stroke="#111" stroke-width="1.5"/>
<text x="488.2" y="729.8" font-size="9" text-anchor="middle" dominant-baseline="central" class="cl">3S</text>
<rect x="546.5" y="694.6" width="74.39999999999998" height="44.299999999999955" fill="none" stroke="#111" stroke-width="1.1"/>
<text x="557.8" y="715.1" font-size="7.35" text-anchor="start" dominant-baseline="central">ダイアグノシス・</text>
<text x="557.8" y="723.8" font-size="7.35" text-anchor="start" dominant-baseline="central">コネクタ2</text>
<polyline points="538.9,704.3 533.9,704.3 529.5,717.2" fill="none" stroke="#000" stroke-width="1.9" stroke-linejoin="round"/>
<polyline points="538.9,729.5 533.9,729.5 529.5,717.2" fill="none" stroke="#000" stroke-width="1.9" stroke-dasharray="3 2"/>
<circle cx="546.5" cy="704.3" r="7.6" fill="#fff" stroke="#111" stroke-width="1.5"/>
<text x="546.5" y="704.5999999999999" font-size="9" text-anchor="middle" dominant-baseline="central" class="cl">F</text>
<circle cx="546.5" cy="729.5" r="7.6" fill="#fff" stroke="#111" stroke-width="1.5"/>
<text x="546.5" y="729.8" font-size="9" text-anchor="middle" dominant-baseline="central" class="cl">E</text>
<rect x="282" y="711.8" width="64.60000000000002" height="10.5" fill="#fff" stroke="#111" stroke-width="1.2"/>
<line x1="282" y1="717.05" x2="286" y2="717.05" stroke="#000" stroke-width="1.1" stroke-linecap="butt"/>
<line x1="342.6" y1="717.05" x2="346.6" y2="717.05" stroke="#000" stroke-width="1.1" stroke-linecap="butt"/>
<text x="314.3" y="717.3499999999999" font-size="7.35" text-anchor="middle" dominant-baseline="central">コネクタ C-64</text>
<rect x="226.7" y="753.3" width="124.60000000000002" height="29.600000000000023" fill="none" stroke="#111" stroke-width="1.1"/>
<text x="233.8" y="759.2" font-size="7.35" text-anchor="start" dominant-baseline="central">アクティブ・</text>
<text x="233.8" y="768.1" font-size="7.35" text-anchor="start" dominant-baseline="central">ドライビング・</text>
<text x="233.8" y="777.0" font-size="7.35" text-anchor="start" dominant-baseline="central">ディスプレイ</text>
<polyline points="294.6,745.4 294.6,740.1 314.2,736.4" fill="none" stroke="#000" stroke-width="1.9" stroke-linejoin="round"/>
<polyline points="334.8,745.4 334.8,740.1 314.2,736.4" fill="none" stroke="#000" stroke-width="1.9" stroke-dasharray="3 2"/>
<polyline points="294.2,791 294.2,795.6 314.2,798.5" fill="none" stroke="#000" stroke-width="1.9" stroke-linejoin="round"/>
<polyline points="334.8,790.5 334.8,795.6 314.2,798.5" fill="none" stroke="#000" stroke-width="1.9" stroke-dasharray="3 2"/>
<line x1="314.2" y1="798" x2="314.2" y2="816" stroke="#000" stroke-width="5" stroke-linecap="butt"/>
<polyline points="294.2,822.6 294.2,818.6 314.2,815.7" fill="none" stroke="#000" stroke-width="1.9" stroke-linejoin="round"/>
<polyline points="333.8,822.6 333.8,818.6 314.2,815.7" fill="none" stroke="#000" stroke-width="1.9" stroke-dasharray="3 2"/>
<g transform="translate(314.2,806.8)"><path d="M-6.2,-5.9 L6.2,5.9 M6.2,-5.9 L-6.2,5.9" stroke="#000" stroke-width="4.6" fill="none"/><path d="M-5.8,-5.5 L5.8,5.5 M5.8,-5.5 L-5.8,5.5" stroke="#fff" stroke-width="2.4" fill="none"/></g>
<circle cx="294.6" cy="753.3" r="7.6" fill="#fff" stroke="#111" stroke-width="1.5"/>
<text x="294.6" y="753.5999999999999" font-size="9" text-anchor="middle" dominant-baseline="central" class="cl">I</text>
<circle cx="334.8" cy="753.3" r="7.6" fill="#fff" stroke="#111" stroke-width="1.5"/>
<text x="334.8" y="753.5999999999999" font-size="9" text-anchor="middle" dominant-baseline="central" class="cl">K</text>
<circle cx="294.6" cy="782.9" r="7.6" fill="#fff" stroke="#111" stroke-width="1.5"/>
<text x="294.6" y="783.1999999999999" font-size="9" text-anchor="middle" dominant-baseline="central" class="cl">J</text>
<circle cx="334.8" cy="782.9" r="7.6" fill="#fff" stroke="#111" stroke-width="1.5"/>
<text x="334.8" y="783.1999999999999" font-size="9" text-anchor="middle" dominant-baseline="central" class="cl">L</text>
<rect x="253" y="830.4" width="123.19999999999999" height="26.0" fill="none" stroke="#000" stroke-width="2.2"/>
<text x="261.2" y="845.6" font-size="7.35" text-anchor="start" dominant-baseline="central">コンビネーション・メータ</text>
<g transform="translate(362,844.8)"><path d="M-5.4,-5.1 L5.4,5.1 M5.4,-5.1 L-5.4,5.1" stroke="#000" stroke-width="3.9" fill="none"/></g>
<circle cx="294.2" cy="830.4" r="7.6" fill="#fff" stroke="#111" stroke-width="1.5"/>
<text x="294.2" y="830.6999999999999" font-size="9" text-anchor="middle" dominant-baseline="central" class="cl">1B</text>
<circle cx="333.8" cy="830.4" r="7.6" fill="#fff" stroke="#111" stroke-width="1.5"/>
<text x="333.8" y="830.6999999999999" font-size="9" text-anchor="middle" dominant-baseline="central" class="cl">1D</text>
</svg></body></html>
